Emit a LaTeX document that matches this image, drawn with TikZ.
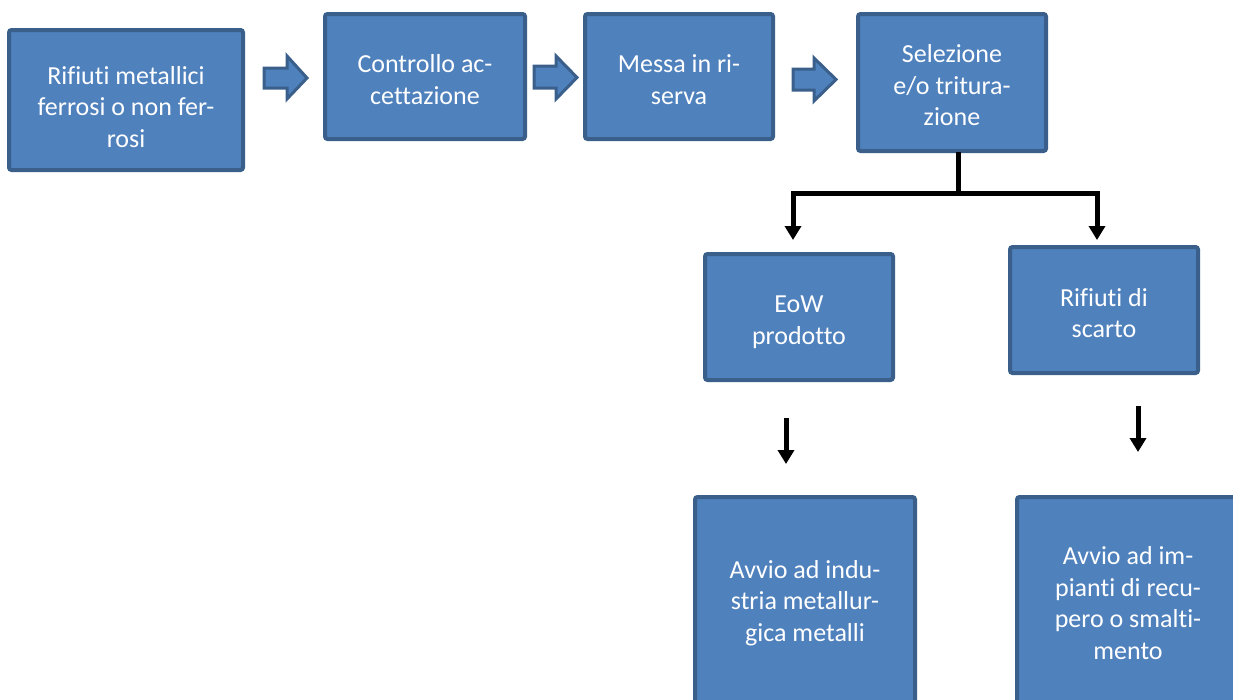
\documentclass[tikz,border=0pt]{standalone}
\usepackage{fontspec}
\setmainfont{Carlito}[Ligatures=NoCommon]
\usetikzlibrary{arrows.meta}
\definecolor{boxfill}{HTML}{4F81BD}
\definecolor{boxline}{HTML}{3A5F8B}
\newcommand\liftline[1]{\rule{0pt}{#1pt}}
\tikzset{
  flowbox/.style={draw=boxline, fill=boxfill, line width=4pt, rounded corners=2.5pt,
    text=white, align=center, inner sep=0pt,
    font=\fontsize{26}{31.5}\selectfont},
  blockarrow/.style={draw=boxline, fill=boxfill, line width=3pt, line join=miter},
  connector/.style={draw=black, line width=5pt, -{Triangle[width=16pt,length=14pt]}},
  plainline/.style={draw=black, line width=5pt}
}
\begin{document}
\begin{tikzpicture}[x=1pt,y=-1pt]
\useasboundingbox (0,0) rectangle (1233,699);
\clip (0,0) rectangle (1233,699);
% boxes
\node[flowbox, minimum width=234pt, minimum height=140pt] (b1) at (126,100) {\liftline{32}Rifiuti metallici\\ferrosi o non fer-\\rosi};
\node[flowbox, minimum width=200pt, minimum height=125pt] (b2) at (425,76.5) {\liftline{24}Controllo ac-\\cettazione};
\node[flowbox, minimum width=188pt, minimum height=125pt] (b3) at (679,76.5) {\liftline{24}Messa in ri-\\serva};
\node[flowbox, minimum width=188pt, minimum height=137pt] (b4) at (952,82.5) {\liftline{24}Selezione\\e/o tritura-\\zione};
\node[flowbox, minimum width=188pt, minimum height=126pt] (b5) at (799,317) {\liftline{27}EoW\\prodotto};
\node[flowbox, minimum width=188pt, minimum height=126pt] (b6) at (1104,310) {\liftline{24}Rifiuti di\\scarto};
\node[flowbox, minimum width=220pt, minimum height=212pt, yshift=2pt] (b7) at (805,605) {Avvio ad indu-\\stria metallur-\\gica metalli};
\node[flowbox, minimum width=222pt, minimum height=212pt] (b8) at (1128,603) {\liftline{14}Avvio ad im-\\pianti di recu-\\pero o smalti-\\mento};
% block arrows
\path[blockarrow] (264,68) -- (287,68) -- (287,56) -- (307,78) -- (287,99) -- (287,88) -- (264,88) -- cycle;
\path[blockarrow] (534,66) -- (556,66) -- (556,56) -- (577,77.5) -- (556,99) -- (556,88) -- (534,88) -- cycle;
\path[blockarrow] (793,69) -- (814,69) -- (814,58) -- (836,79.5) -- (814,101) -- (814,90) -- (793,90) -- cycle;
% tree connector
\coordinate (root) at (958,152);
\coordinate (split) at (958,193);
\coordinate (t5) at (793,240);
\coordinate (t6) at (1097,240);
\draw[plainline] (root) -- (split);
\draw[connector] (split) -| (t5);
\draw[connector] (split) -| (t6);
% lower arrows
\coordinate (s7) at (786,418);
\coordinate (e7) at (786,464);
\coordinate (s8) at (1138,406);
\coordinate (e8) at (1138,452);
\draw[connector] (s7) -- (e7);
\draw[connector] (s8) -- (e8);
\end{tikzpicture}
\end{document}
